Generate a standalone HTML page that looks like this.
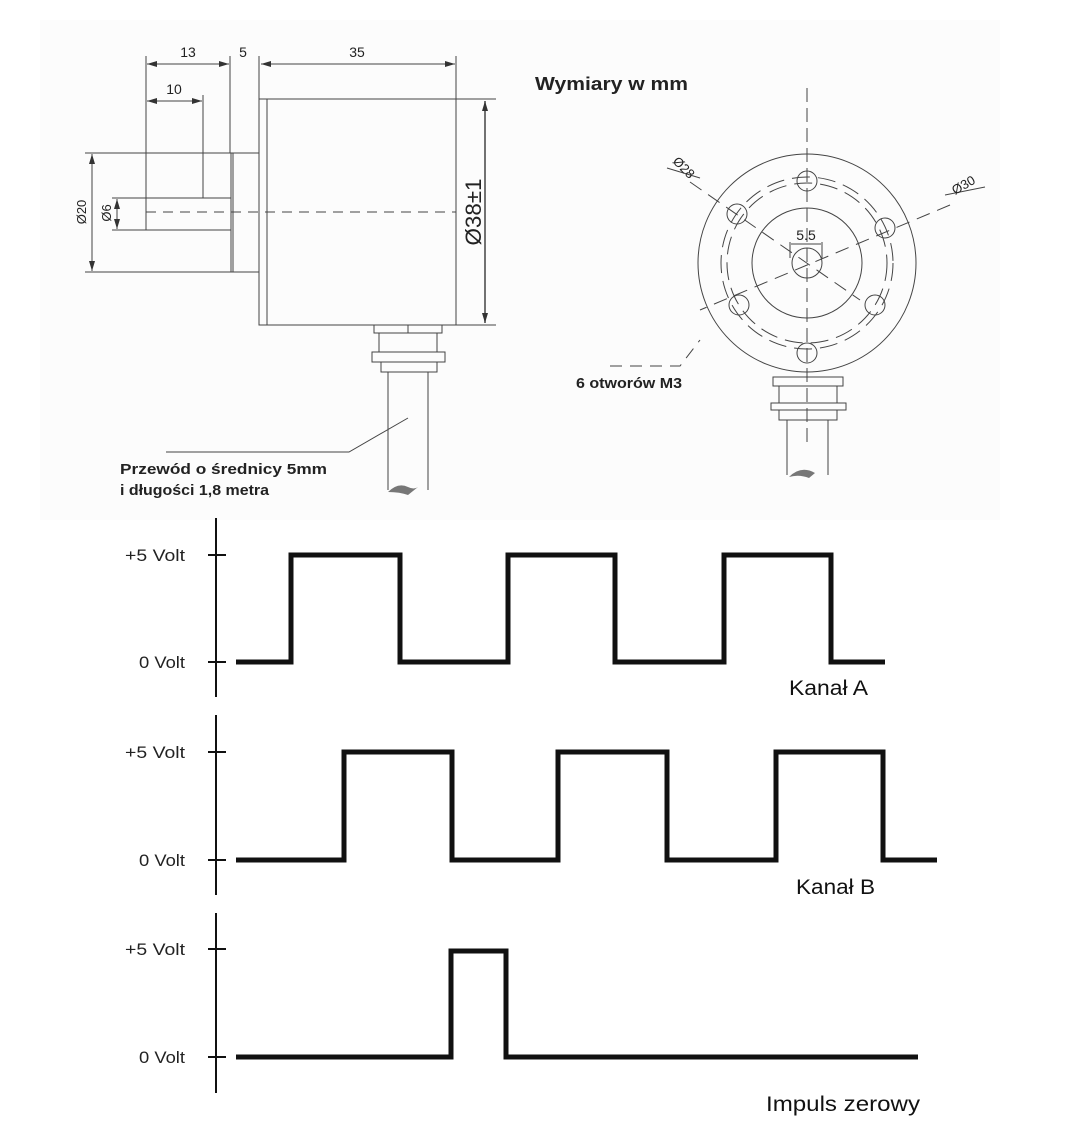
<!DOCTYPE html>
<html><head><meta charset="utf-8"><style>
html,body{margin:0;padding:0;background:#fff;}
svg{display:block;}
</style></head><body>
<svg width="1091" height="1134" viewBox="0 0 1091 1134" xmlns="http://www.w3.org/2000/svg" font-family="Liberation Sans, sans-serif">
<rect x="0" y="0" width="1091" height="1134" fill="#fff"/>
<rect x="40" y="20" width="960" height="500" fill="#fcfcfc"/>
<defs>
<marker id="ar" markerWidth="10" markerHeight="6" refX="10" refY="3" orient="auto" markerUnits="userSpaceOnUse"><path d="M0,0 L10,3 L0,6 z" fill="#333"/></marker>
<marker id="al" markerWidth="10" markerHeight="6" refX="0" refY="3" orient="auto" markerUnits="userSpaceOnUse"><path d="M10,0 L0,3 L10,6 z" fill="#333"/></marker>
</defs>
<g stroke="#444" stroke-width="1" fill="none">
<line x1="146" y1="56" x2="146" y2="230"/>
<line x1="230" y1="56" x2="230" y2="153"/>
<line x1="259" y1="56" x2="259" y2="99"/>
<line x1="456" y1="56" x2="456" y2="99"/>
<line x1="203" y1="95" x2="203" y2="198"/>
<line x1="147" y1="64" x2="229" y2="64" marker-start="url(#al)" marker-end="url(#ar)"/>
<line x1="261" y1="64" x2="455" y2="64" marker-start="url(#al)" marker-end="url(#ar)"/>
<line x1="147" y1="101" x2="202" y2="101" marker-start="url(#al)" marker-end="url(#ar)"/>
<rect x="259" y="99" width="197" height="226"/>
<line x1="267" y1="99" x2="267" y2="325"/>
<line x1="85" y1="153" x2="259" y2="153"/>
<line x1="85" y1="272" x2="259" y2="272"/>
<line x1="231" y1="153" x2="231" y2="272"/>
<line x1="233" y1="153" x2="233" y2="272"/>
<line x1="112" y1="198" x2="231" y2="198"/>
<line x1="112" y1="230" x2="231" y2="230"/>
<line x1="146" y1="198" x2="146" y2="230"/>
<line x1="92" y1="154" x2="92" y2="271" marker-start="url(#al)" marker-end="url(#ar)"/>
<line x1="117" y1="199" x2="117" y2="229" marker-start="url(#al)" marker-end="url(#ar)"/>
<line x1="146" y1="212" x2="456" y2="212" stroke-dasharray="10,7"/>
<line x1="456" y1="99" x2="496" y2="99"/>
<line x1="456" y1="325" x2="496" y2="325"/>
<line x1="485" y1="101" x2="485" y2="323" stroke-width="1.5" marker-start="url(#al)" marker-end="url(#ar)"/>
<rect x="374" y="325" width="68" height="8"/>
<line x1="408" y1="325" x2="408" y2="333"/>
<rect x="379" y="333" width="58" height="19"/>
<rect x="372" y="352" width="73" height="10"/>
<rect x="381" y="362" width="56" height="10"/>
<line x1="388" y1="372" x2="388" y2="490"/>
<line x1="428" y1="372" x2="428" y2="490"/>
<polyline points="166,452 349,452 408,418"/>
</g>
<path d="M388,492 q10,-10 20,-5 q6,3 10,0 l-10,8 q-8,-3 -20,-3z" fill="#777"/>
<g fill="#222" font-size="14">
<text x="188" y="57" text-anchor="middle">13</text>
<text x="243" y="57" text-anchor="middle">5</text>
<text x="357" y="57" text-anchor="middle">35</text>
<text x="174" y="94" text-anchor="middle">10</text>
<text transform="translate(86,212) rotate(-90)" text-anchor="middle" font-size="13">Ø20</text>
<text transform="translate(111,213) rotate(-90)" text-anchor="middle" font-size="13">Ø6</text>
<text transform="translate(481,212) rotate(-90)" text-anchor="middle" font-size="22" textLength="67" lengthAdjust="spacingAndGlyphs">Ø38±1</text>
</g>
<g fill="#222" font-weight="bold" font-size="15">
<text x="120" y="474" textLength="207" lengthAdjust="spacingAndGlyphs">Przewód o średnicy 5mm</text>
<text x="120" y="495" textLength="149" lengthAdjust="spacingAndGlyphs">i długości 1,8 metra</text>
<text x="576" y="388" textLength="106" lengthAdjust="spacingAndGlyphs">6 otworów M3</text>
<text x="535" y="90" font-size="18" textLength="153" lengthAdjust="spacingAndGlyphs">Wymiary w mm</text>
</g>
<g stroke="#444" stroke-width="1" fill="none">
<line x1="807" y1="88" x2="807" y2="445" stroke-dasharray="14,6"/>
<circle cx="807" cy="263" r="109"/>
<circle cx="807" cy="263" r="80" stroke-dasharray="18,8"/>
<circle cx="807" cy="263" r="86" stroke-dasharray="18,8"/>
<circle cx="807" cy="263" r="55"/>
<circle cx="807" cy="263" r="15"/>
<circle cx="807" cy="181" r="10"/>
<circle cx="807" cy="353" r="10"/>
<circle cx="737" cy="214" r="10"/>
<circle cx="885" cy="228" r="10"/>
<circle cx="739" cy="305" r="10"/>
<circle cx="875" cy="305" r="10"/>
<line x1="690" y1="182" x2="860" y2="300" stroke-dasharray="14,8"/>
<line x1="950" y1="205" x2="700" y2="310" stroke-dasharray="14,8"/>
<line x1="790" y1="242" x2="790" y2="258"/>
<line x1="822" y1="242" x2="822" y2="258"/>
<line x1="791" y1="244" x2="821" y2="244"/>
<polyline points="610,366 680,366 700,340" stroke-dasharray="12,8"/>
<line x1="667" y1="168" x2="700" y2="178"/>
<line x1="945" y1="195" x2="985" y2="187"/>
<rect x="773" y="377" width="70" height="9"/>
<rect x="779" y="386" width="58" height="17"/>
<rect x="771" y="403" width="75" height="7"/>
<rect x="779" y="410" width="58" height="10"/>
<line x1="787" y1="420" x2="787" y2="475"/>
<line x1="828" y1="420" x2="828" y2="475"/>
</g>
<path d="M789,477 q12,-12 26,-4 l-6,5 q-10,-4 -20,-1z" fill="#777"/>
<g fill="#222" font-size="13">
<text transform="translate(672,162) rotate(45)">Ø28</text>
<text transform="translate(955,195) rotate(-30)">Ø30</text>
<text x="806" y="240" text-anchor="middle" font-size="14">5.5</text>
</g>
<g stroke="#111" fill="none">
<g stroke-width="2">
<line x1="216" y1="518" x2="216" y2="697"/>
<line x1="208" y1="555" x2="226" y2="555"/><line x1="208" y1="662" x2="226" y2="662"/>
<line x1="216" y1="715" x2="216" y2="895"/>
<line x1="208" y1="752" x2="226" y2="752"/><line x1="208" y1="860" x2="226" y2="860"/>
<line x1="216" y1="913" x2="216" y2="1093"/>
<line x1="208" y1="949" x2="226" y2="949"/><line x1="208" y1="1057" x2="226" y2="1057"/>
</g>
<g stroke-width="5" stroke-linejoin="miter">
<polyline points="236,662 291,662 291,555 400,555 400,662 508,662 508,555 615,555 615,662 724,662 724,555 831,555 831,662 885,662"/>
<polyline points="236,860 344,860 344,752 452,752 452,860 558,860 558,752 667,752 667,860 776,860 776,752 883,752 883,860 937,860"/>
<polyline points="236,1057 451,1057 451,951 506,951 506,1057 918,1057"/>
</g>
</g>
<g fill="#222" font-size="17">
<text x="125" y="561" textLength="60" lengthAdjust="spacingAndGlyphs">+5 Volt</text><text x="139" y="668" textLength="46" lengthAdjust="spacingAndGlyphs">0 Volt</text>
<text x="125" y="758" textLength="60" lengthAdjust="spacingAndGlyphs">+5 Volt</text><text x="139" y="866" textLength="46" lengthAdjust="spacingAndGlyphs">0 Volt</text>
<text x="125" y="955" textLength="60" lengthAdjust="spacingAndGlyphs">+5 Volt</text><text x="139" y="1063" textLength="46" lengthAdjust="spacingAndGlyphs">0 Volt</text>
</g>
<g fill="#111" font-size="21">
<text x="789" y="695" textLength="79" lengthAdjust="spacingAndGlyphs">Kanał A</text>
<text x="796" y="894" textLength="79" lengthAdjust="spacingAndGlyphs">Kanał B</text>
<text x="766" y="1111" textLength="154" lengthAdjust="spacingAndGlyphs">Impuls zerowy</text>
</g>
</svg>
</body></html>
